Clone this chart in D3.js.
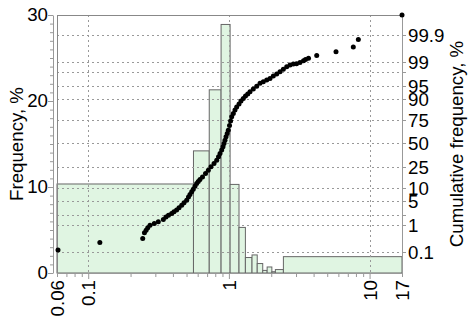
<!DOCTYPE html>
<html>
<head>
<meta charset="utf-8">
<script src="https://cdn.jsdelivr.net/npm/d3@7"></script>
<style>
  body { margin: 0; background: #fff; }
  text { font-family: "Liberation Sans", Arial, sans-serif; fill: #000; }
</style>
</head>
<body>
<svg id="chart" width="470" height="322"></svg>
<script>
// histogram bins (log x), frequency in %
const binEdges = [0.06, 0.56, 0.725, 0.88, 1.02, 1.18, 1.31, 1.46, 1.59, 1.74, 1.87, 2.02, 2.14, 2.44, 17];
const binFreq = [10.35, 14.2, 21.3, 28.9, 10.3, 5.3, 1.8, 2.1, 1.1, 0.3, 0.7, 0.15, 0.4, 1.9];

// cumulative points: value and cumulative frequency in %
const cumX = [0.061, 0.121, 0.244, 0.251, 0.258, 0.265, 0.275, 0.295, 0.315, 0.342, 0.357, 0.372, 0.392,
  0.407, 0.425, 0.442, 0.462, 0.480, 0.501, 0.516, 0.529, 0.544, 0.558, 0.574, 0.590, 0.606, 0.623, 0.649,
  0.682, 0.714, 0.746, 0.784, 0.819, 0.844, 0.865, 0.889, 0.908, 0.923, 0.938, 0.954, 0.973, 0.990, 1.010,
  1.028, 1.047, 1.075, 1.105, 1.136, 1.180, 1.219, 1.266, 1.312, 1.361, 1.413, 1.491, 1.576, 1.664, 1.756,
  1.857, 1.960, 2.068, 2.187, 2.308, 2.437, 2.576, 2.719, 2.870, 3.024, 3.202, 3.391, 3.504, 3.680, 4.209,
  5.772, 7.66, 8.32, 17];
const cumPct = [0.116, 0.235, 0.333, 0.534, 0.665, 0.80, 0.98, 1.12, 1.26, 1.50, 1.80, 2.03, 2.28,
  2.54, 2.85, 3.34, 3.91, 4.55, 5.27, 6.27, 7.2, 8.36, 9.6, 11.15, 12.7, 13.9, 15.2, 17.0,
  19.6, 22.3, 25.2, 28.4, 31.7, 35.1, 38.8, 42.5, 46.2, 50.1, 53.8, 57.5, 61.3, 64.8, 69.5,
  73.9, 77.7, 80.5, 83.0, 85.2, 87.1, 88.7, 90.1, 91.2, 92.1, 93.0, 94.0, 94.9, 95.7, 96.1,
  96.5, 96.85, 97.3, 97.65, 97.97, 98.3, 98.57, 98.74, 98.83, 98.86, 98.96, 99.10, 99.18, 99.26, 99.40,
  99.56, 99.71, 99.85, 99.988];

const freqTicks = d3.range(0, 31, 1);
const freqLabels = [0, 10, 20, 30];
const probTicks = [0.1, 1, 2, 5, 10, 25, 50, 75, 90, 95, 98, 99, 99.9];
const probLabels = [0.1, 1, 5, 10, 25, 50, 75, 90, 95, 99, 99.9];
const xMajor = [0.1, 1, 10];
const xLabels = [0.06, 0.1, 1, 10, 17];

// inverse normal cdf (Acklam) for the probability axis
function probit(p) {
  const a = [-39.69683028665376, 220.9460984245205, -275.9285104469687, 138.3577518672690, -30.66479806614716, 2.506628277459239];
  const b = [-54.47609879822406, 161.5858368580409, -155.6989798598866, 66.80131188771972, -13.28068155288572];
  const c = [-0.007784894002430293, -0.3223964580411365, -2.400758277161838, -2.549732539343734, 4.374664141464968, 2.938163982698783];
  const d = [0.007784695709041462, 0.3224671290700398, 2.445134137142996, 3.754408661907416];
  const pl = 0.02425;
  if (p < pl) {
    const q = Math.sqrt(-2 * Math.log(p));
    return (((((c[0]*q+c[1])*q+c[2])*q+c[3])*q+c[4])*q+c[5]) / ((((d[0]*q+d[1])*q+d[2])*q+d[3])*q+1);
  }
  if (p > 1 - pl) {
    const q = Math.sqrt(-2 * Math.log(1 - p));
    return -(((((c[0]*q+c[1])*q+c[2])*q+c[3])*q+c[4])*q+c[5]) / ((((d[0]*q+d[1])*q+d[2])*q+d[3])*q+1);
  }
  const q = p - 0.5, r = q * q;
  return (((((a[0]*r+a[1])*r+a[2])*r+a[3])*r+a[4])*r+a[5])*q / (((((b[0]*r+b[1])*r+b[2])*r+b[3])*r+b[4])*r+1);
}

const svg = d3.select("#chart"),
  margin = { top: 15, right: 68, bottom: 49, left: 57 },
  width = +svg.attr("width") - margin.left - margin.right,
  height = +svg.attr("height") - margin.top - margin.bottom,
  g = svg.append("g").attr("transform", "translate(" + margin.left + "," + margin.top + ")");

const x = d3.scaleLog().domain([0.06, 17]).range([0, width]);
const y = d3.scaleLinear().domain([0, 30]).range([height, 0]);
const zScale = d3.scaleLinear().domain([-3.7, 3.67]).range([height, 0]);
const yProb = (p) => zScale(probit(p / 100));

const bins = binFreq.map((f, i) => ({ x0: binEdges[i], x1: binEdges[i + 1], f: f }));

// bars
g.append("g")
  .selectAll("rect")
  .data(bins)
  .enter()
  .append("rect")
  .attr("x", (d) => x(d.x0))
  .attr("y", (d) => y(d.f))
  .attr("width", (d) => x(d.x1) - x(d.x0))
  .attr("height", (d) => y(0) - y(d.f))
  .attr("fill", "#e0f5e2")
  .attr("stroke", "#666")
  .attr("stroke-width", 1);

// grid
const grid = g.append("g").attr("stroke", "#999").attr("stroke-dasharray", "2,3").attr("stroke-width", 1);
grid.selectAll(".h")
  .data(probTicks)
  .enter()
  .append("line")
  .attr("x1", 0)
  .attr("x2", width)
  .attr("y1", (d) => Math.round(yProb(d)) + 0.5)
  .attr("y2", (d) => Math.round(yProb(d)) + 0.5);
grid.selectAll(".v")
  .data(xMajor)
  .enter()
  .append("line")
  .attr("y1", 0)
  .attr("y2", height)
  .attr("x1", (d) => Math.round(x(d)) + 0.5)
  .attr("x2", (d) => Math.round(x(d)) + 0.5);

// frame
g.append("rect")
  .attr("x", 0.5)
  .attr("y", 0.5)
  .attr("width", width)
  .attr("height", height)
  .attr("fill", "none")
  .attr("stroke", "#888");

const fontSize = "18.7px";

// left axis
const ax = g.append("g")
  .attr("transform", "translate(-4,0)")
  .call(d3.axisLeft(y).tickValues(freqTicks).tickSize(3).tickPadding(2).tickSizeOuter(0)
    .tickFormat((d) => (freqLabels.includes(d) ? d : "")));
ax.selectAll("line").attr("stroke", "#999").filter((d) => freqLabels.includes(d)).attr("x2", -5);
ax.select(".domain").attr("stroke", "#999");
ax.selectAll("text").style("font-size", fontSize);

// bottom axis
const xTicks = [0.06];
[0.01, 0.1, 1, 10].forEach((m) => d3.range(1, 10).forEach((k) => {
  const v = +(m * k).toFixed(3);
  if (v > 0.06 && v < 17) xTicks.push(v);
}));
xTicks.push(17);
const bx = g.append("g")
  .attr("transform", "translate(0," + height + ")")
  .call(d3.axisBottom(x).tickValues(xTicks).tickSize(4).tickSizeOuter(0)
    .tickFormat((d) => (xLabels.includes(d) ? d : "")));
bx.selectAll("line").attr("stroke", "#999").filter((d) => xMajor.includes(d)).attr("y2", 6);
bx.select(".domain").attr("stroke", "#999");
bx.selectAll("text")
  .style("font-size", fontSize)
  .attr("transform", "rotate(-90)")
  .attr("x", -7)
  .attr("y", 0)
  .attr("dy", "0.35em")
  .style("text-anchor", "end");

// right axis
const rx = g.append("g")
  .attr("transform", "translate(" + width + ",0)")
  .call(d3.axisRight(d3.scaleLinear().range([height, 0])).tickValues([]).tickSizeOuter(0));
rx.select(".domain").attr("stroke", "#999");
const rt = rx.selectAll(".pt")
  .data(probTicks)
  .enter()
  .append("g")
  .attr("transform", (d) => "translate(0," + (Math.round(yProb(d)) + 0.5) + ")");
rt.append("line").attr("x2", 4).attr("stroke", "#999");
rt.filter((d) => probLabels.includes(d))
  .append("text")
  .attr("x", 6)
  .attr("dy", "0.35em")
  .style("font-size", fontSize)
  .text((d) => d);

// cumulative points
g.append("g")
  .selectAll("circle")
  .data(cumX.map((v, i) => [v, cumPct[i]]))
  .enter()
  .append("circle")
  .attr("cx", (d) => x(d[0]))
  .attr("cy", (d) => yProb(d[1]))
  .attr("r", 2.5)
  .attr("fill", "#000");

// titles
svg.append("text")
  .attr("transform", "translate(23," + (margin.top + height / 2) + ") rotate(-90)")
  .style("text-anchor", "middle")
  .style("font-size", fontSize)
  .text("Frequency, %");
svg.append("text")
  .attr("transform", "translate(463," + (margin.top + height / 2) + ") rotate(-90)")
  .style("text-anchor", "middle")
  .style("font-size", fontSize)
  .text("Cumulative frequency, %");
</script>
</body>
</html>
